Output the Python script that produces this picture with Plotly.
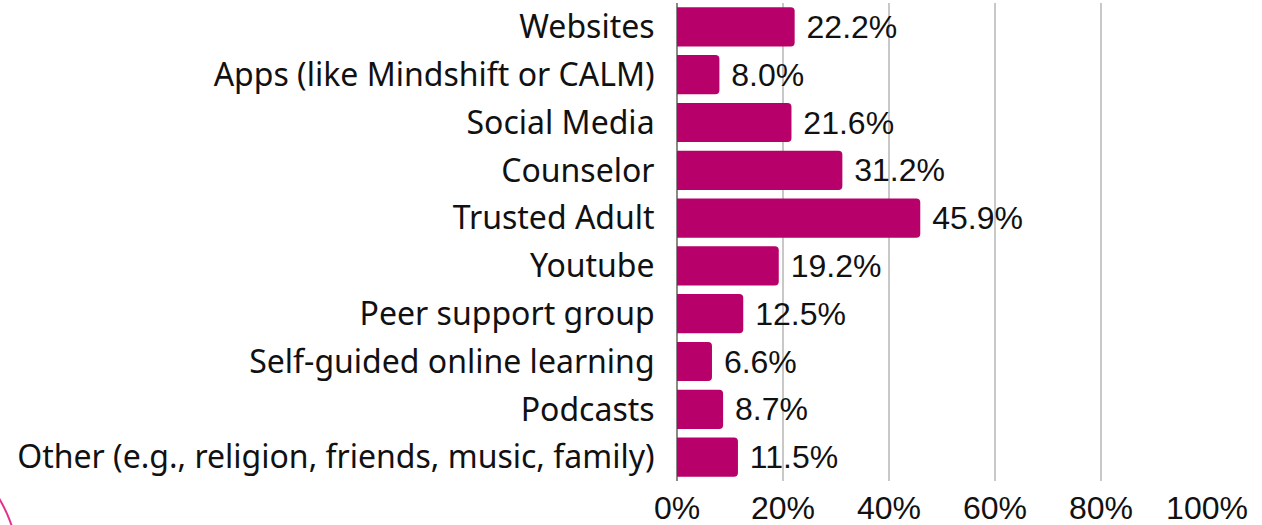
import plotly.graph_objects as go

# survey answers, top to bottom as shown
categories = [
    "Websites",
    "Apps (like Mindshift or CALM)",
    "Social Media",
    "Counselor",
    "Trusted Adult",
    "Youtube",
    "Peer support group",
    "Self-guided online learning",
    "Podcasts",
    "Other (e.g., religion, friends, music, family)",
]
percent = [22.2, 8.0, 21.6, 31.2, 45.9, 19.2, 12.5, 6.6, 8.7, 11.5]
tick_vals = [0, 20, 40, 60, 80, 100]
tick_text = ["0%", "20%", "40%", "60%", "80%", "100%"]

bar_color = "#B8006A"
num_font = "Liberation Sans, Arial, sans-serif"

fig = go.Figure()
fig.add_trace(go.Bar(
    y=categories,
    x=percent,
    orientation="h",
    marker=dict(color=bar_color, line=dict(width=0)),
    text=[f" {v:.1f}%" for v in percent],
    textposition="outside",
    textfont=dict(family=num_font, size=32, color="#111111"),
    cliponaxis=False,
))

fig.update_layout(
    width=1262, height=525,
    margin=dict(l=677, r=55, t=3, b=44, autoexpand=False),
    plot_bgcolor="white", paper_bgcolor="white",
    showlegend=False,
    bargap=0.18,
    barcornerradius=4,
    font=dict(family="Noto Sans, sans-serif", color="#111111"),
)
fig.update_xaxes(
    range=[0, 100], tickvals=tick_vals, ticktext=tick_text,
    showgrid=True, gridcolor="#C8C8C8", gridwidth=2,
    zeroline=True, zerolinecolor="#8A8A8A", zerolinewidth=2,
    tickfont=dict(family=num_font, size=32, color="#111111"),
    ticks="", showline=False, automargin=False, ticklabelstandoff=5,
)
fig.update_yaxes(
    autorange="reversed",
    tickfont=dict(family="Noto Sans, sans-serif", size=32, color="#111111"),
    ticks="outside", ticklen=15, tickcolor="rgba(0,0,0,0)",
    showgrid=False, showline=False, automargin=False,
)

# decorative pink arc in the lower-left corner
fig.add_shape(type="circle", xref="paper", yref="paper",
              x0=-1.7658, x1=-1.2417, y0=-0.4768, y1=0.1044,
              line=dict(color="#E2338D", width=2), layer="above")

# drop the browser's default body margin so the figure sits at the window corner
fig.write_html("out.html", config={"displayModeBar": False},
               post_script="document.body.style.margin='0px';")
